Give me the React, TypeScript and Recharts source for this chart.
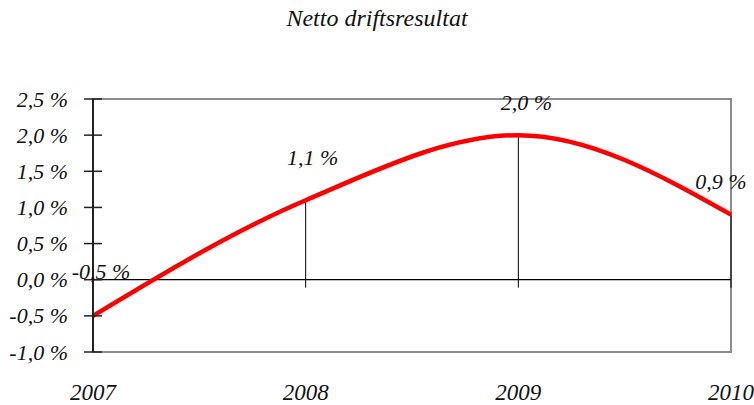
import React from 'react';
import {
  LineChart,
  Line,
  XAxis,
  YAxis,
  ReferenceLine,
  ReferenceArea,
  LabelList,
} from 'recharts';

const years = ['2007', '2008', '2009', '2010'];
const resultat = [-0.5, 1.1, 2.0, 0.9];
const yTicks = [-1, -0.5, 0, 0.5, 1, 1.5, 2, 2.5];

const FONT = '"Liberation Serif", "Times New Roman", serif';
const fmt = (v: number) => `${v.toFixed(1).replace('.', ',')} %`;

// label nudges, per point, so they sit like in the original
const labelShift = [
  { dx: 8, dy: -44 },
  { dx: 7, dy: -43 },
  { dx: 8, dy: -33 },
  { dx: -10, dy: -33 },
];

const YTick = (props: any) => {
  const { x, y, payload } = props;
  return (
    <g>
      <line x1={x - 9} x2={x + 9} y1={y} y2={y} stroke='#222' strokeWidth={1.5} />
      <text
        x={x - 25}
        y={y}
        textAnchor='end'
        dominantBaseline='central'
        fontFamily={FONT}
        fontStyle='italic'
        fontSize={22}
        fill='#111'
      >
        {fmt(payload.value)}
      </text>
    </g>
  );
};

const XTick = (props: any) => {
  const { x, y, payload } = props;
  return (
    <text
      x={x}
      y={y + 38}
      textAnchor='middle'
      dominantBaseline='central'
      fontFamily={FONT}
      fontStyle='italic'
      fontSize={23}
      fill='#111'
    >
      {payload.value}
    </text>
  );
};

const PointLabel = (props: any) => {
  const { x, y, value, index } = props;
  const s = labelShift[index] ?? { dx: 0, dy: -36 };
  return (
    <text
      x={x + s.dx}
      y={y + s.dy}
      textAnchor='middle'
      dominantBaseline='central'
      fontFamily={FONT}
      fontStyle='italic'
      fontSize={22}
      fill='#111'
    >
      {fmt(value)}
    </text>
  );
};

export default function App() {
  const data = years.map((year, i) => ({ year, value: resultat[i] }));

  return (
    <div style={{ position: 'absolute', left: 0, top: 0, width: 754, height: 405, background: '#fff' }}>
      <div
        style={{
          position: 'absolute',
          top: 5,
          width: 754,
          textAlign: 'center',
          fontFamily: FONT,
          fontStyle: 'italic',
          fontSize: 24,
          color: '#111',
        }}
      >
        Netto driftsresultat
      </div>
      <LineChart
        width={754}
        height={405}
        data={data}
        margin={{ top: 99, right: 23, bottom: 0, left: 0 }}
      >
        <ReferenceArea
          x1='2007'
          x2='2010'
          y1={-1}
          y2={2.5}
          fill='none'
          fillOpacity={0}
          stroke='#8c8c8c'
          strokeWidth={2}
        />
        <XAxis
          dataKey='year'
          height={53}
          axisLine={false}
          tickLine={false}
          tickSize={0}
          tick={<XTick />}
          interval={0}
        />
        <YAxis
          width={93}
          domain={[-1, 2.5]}
          ticks={yTicks}
          interval={0}
          tickLine={false}
          tickSize={0}
          tickMargin={0}
          axisLine={{ stroke: '#222', strokeWidth: 2 }}
          tick={<YTick />}
        />
        <ReferenceLine y={0} stroke='#000' strokeWidth={1.2} />
        {data.map((d) => (
          <ReferenceLine
            key={d.year}
            segment={[
              { x: d.year, y: d.value },
              { x: d.year, y: -0.11 },
            ]}
            stroke='#000'
            strokeWidth={1}
          />
        ))}
        <Line
          type='monotone'
          dataKey='value'
          stroke='#ff0000'
          strokeWidth={4.5}
          dot={false}
          isAnimationActive={false}
        >
          <LabelList dataKey='value' content={<PointLabel />} />
        </Line>
      </LineChart>
    </div>
  );
}
